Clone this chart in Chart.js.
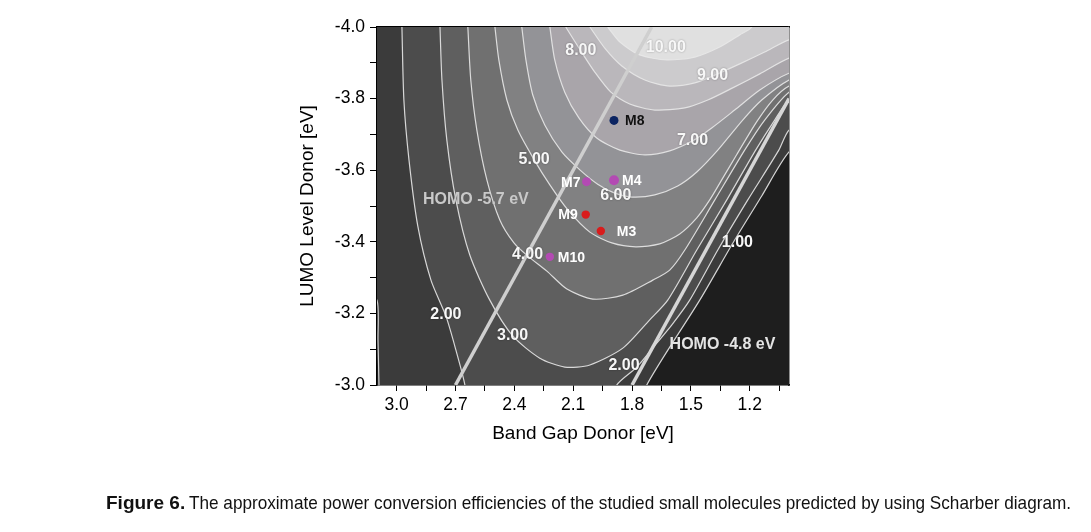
<!DOCTYPE html>
<html><head><meta charset="utf-8">
<script src="https://cdn.jsdelivr.net/npm/chart.js@4.4.1/dist/chart.umd.min.js"></script>
<style>
html,body{margin:0;padding:0;background:#fff;}
#wrap{position:relative;width:1091px;height:532px;overflow:hidden;}
#c{position:absolute;left:0;top:0;}
#cap{position:absolute;left:106px;top:492px;white-space:nowrap;color:#111;line-height:22px;}
#cap b{font-family:"Liberation Sans",Arial,sans-serif;font-size:19px;font-weight:bold;vertical-align:top;}
#capt{display:inline-block;font-family:"Liberation Sans",Arial,sans-serif;font-size:19px;transform-origin:0 50%;vertical-align:top;margin-left:4px;}
</style></head><body>
<div id="wrap">
<canvas id="c" width="1091" height="532"></canvas>
<div id="cap"><b>Figure 6.</b><span id="capt">The approximate power conversion efficiencies of the studied small molecules predicted by using Scharber diagram.</span></div>
</div>
<script>
// ---------- tick labels ----------
const xMajorTicks = [3.0, 2.7, 2.4, 2.1, 1.8, 1.5, 1.2];
const xMinorTicks = [2.85, 2.55, 2.25, 1.95, 1.65, 1.35, 1.05];
const yMajorTicks = [-4.0, -3.8, -3.6, -3.4, -3.2, -3.0];
const yMinorTicks = [-3.9, -3.7, -3.5, -3.3, -3.1];

// ---------- contour lines (band gap [eV], LUMO [eV]) ----------
const contourLevels = [1, 2, 3, 4, 5, 6, 7, 8, 9, 10];
const c1Left  = [[3.1,-3.237],[3.095,-3.126],[3.09,-3.0]];
const c1Right = [[1.725,-3.0],[1.455,-3.237],[1.277,-3.405],[1.139,-3.528],[1.0,-3.651]];
const c2Left  = [[2.973,-4.0],[2.963,-3.796],[2.937,-3.629],[2.892,-3.444],[2.825,-3.293],[2.749,-3.193],[2.698,-3.098],[2.652,-3.0]];
const c2Right = [[1.878,-3.0],[1.776,-3.050],[1.674,-3.117],[1.597,-3.168],[1.506,-3.237],[1.363,-3.377],[1.210,-3.517],[1.052,-3.656],[1.0,-3.712]];
const c3 = [[2.779,-4.0],[2.769,-3.852],[2.744,-3.684],[2.698,-3.517],[2.627,-3.363],[2.525,-3.237],[2.408,-3.137],[2.270,-3.075],[2.143,-3.050],[2.015,-3.056],[1.847,-3.103],[1.710,-3.182],[1.618,-3.237],[1.470,-3.377],[1.317,-3.517],[1.170,-3.656],[1.073,-3.740],[1.0,-3.796]];
const c4 = [[2.637,-4.0],[2.622,-3.852],[2.591,-3.712],[2.540,-3.573],[2.474,-3.461],[2.402,-3.397],[2.331,-3.360],[2.234,-3.318],[2.132,-3.268],[2.000,-3.240],[1.847,-3.251],[1.694,-3.293],[1.608,-3.321],[1.531,-3.377],[1.378,-3.517],[1.226,-3.656],[1.124,-3.740],[1.0,-3.818]];
const c5 = [[2.499,-4.0],[2.479,-3.908],[2.438,-3.796],[2.382,-3.712],[2.301,-3.631],[2.219,-3.559],[2.127,-3.489],[2.015,-3.427],[1.903,-3.397],[1.781,-3.386],[1.659,-3.394],[1.557,-3.422],[1.470,-3.467],[1.404,-3.517],[1.343,-3.573],[1.267,-3.643],[1.165,-3.735],[1.083,-3.796],[1.0,-3.835]];
const c6 = [[2.362,-4.0],[2.341,-3.908],[2.306,-3.810],[2.245,-3.726],[2.158,-3.651],[2.066,-3.601],[1.975,-3.561],[1.888,-3.536],[1.801,-3.525],[1.684,-3.531],[1.567,-3.556],[1.470,-3.595],[1.363,-3.656],[1.236,-3.740],[1.139,-3.796],[1.0,-3.852]];
const c7 = [[2.219,-4.0],[2.194,-3.908],[2.143,-3.818],[2.071,-3.746],[1.980,-3.690],[1.862,-3.656],[1.735,-3.643],[1.608,-3.654],[1.491,-3.682],[1.394,-3.718],[1.277,-3.768],[1.149,-3.824],[1.0,-3.871]];
const c8 = [[2.138,-4.0],[2.061,-3.933],[1.990,-3.874],[1.908,-3.818],[1.812,-3.785],[1.684,-3.768],[1.531,-3.774],[1.414,-3.796],[1.287,-3.830],[1.149,-3.869],[1.0,-3.913]];
const c9 = [[2.015,-4.0],[1.939,-3.941],[1.852,-3.891],[1.735,-3.852],[1.608,-3.835],[1.480,-3.844],[1.389,-3.863],[1.251,-3.897],[1.124,-3.930],[1.0,-3.964]];
const c10 = [[1.924,-4.0],[1.862,-3.958],[1.761,-3.922],[1.623,-3.908],[1.480,-3.916],[1.353,-3.944],[1.251,-3.978],[1.190,-4.0]];

// contour labels
const contourLabelText = ['10.00','9.00','8.00','7.00','6.00','5.00','4.00','3.00','2.00','2.00','1.00'];
const contourLabelGap  = [1.628, 1.390, 2.061, 1.492, 1.883, 2.299, 2.333, 2.409, 2.749, 1.841, 1.263];
const contourLabelLumo = [-3.942, -3.863, -3.933, -3.682, -3.528, -3.630, -3.365, -3.137, -3.197, -3.053, -3.397];

// HOMO reference lines
const homo57Line = [[2.7,-3.0],[1.7,-4.0]];
const homo48Line = [[1.8,-3.0],[1.0,-3.8]];
const homoLabelText = ['HOMO -5.7 eV', 'HOMO -4.8 eV'];
const homoLabelGap  = [2.596, 1.339];
const homoLabelLumo = [-3.519, -3.114];

// molecules
const molecules = ['M8', 'M7', 'M4', 'M9', 'M3', 'M10'];
const molGap    = [1.892, 2.032, 1.892, 2.036, 1.959, 2.219];
const molLumo   = [-3.739, -3.568, -3.572, -3.476, -3.430, -3.358];

// ---------- styles ----------
const bandColors = ['#3b3b3b','#4c4c4c','#5f5f5f','#707070','#818182','#939397','#a9a5aa','#bab7bb','#cccbcd','#e0e0e0'];
const lowColor = '#1e1e1e';
const molStyle = {
  M8:{fill:'#0b2462', text:'#111', side:1, dx:11, r:4.5},
  M7:{fill:'#b34ab3', text:'#fff', side:-1, dx:6, r:4.5},
  M4:{fill:'#b34ab3', text:'#fff', side:1, dx:8, r:5},
  M9:{fill:'#d91c1c', text:'#fff', side:-1, dx:8, r:4.2},
  M3:{fill:'#d91c1c', text:'#fff', side:1, dx:16, r:4.2},
  M10:{fill:'#b34ab3', text:'#fff', side:1, dx:8, r:4.2}
};

// ---------- building closed regions (value >= level) ----------
const XL = 3.16, XR = 0.94, YT = -4.04, YB = -2.96;
function closeTop(path) {
  const pts = path.slice();
  const last = path[path.length-1];
  if (last[0] <= 1.0001) { pts.push([XR, last[1]]); pts.push([XR, YT]); }
  else pts.push([last[0], YT]);
  pts.push([path[0][0], YT]);
  return pts;
}
function closeTwo(left, right) {
  const pts = left.slice();
  pts.push([left[left.length-1][0], YB]);
  pts.push([right[0][0], YB]);
  right.forEach(p => pts.push(p));
  const last = right[right.length-1];
  pts.push([XR, last[1]]); pts.push([XR, YT]);
  pts.push([left[0][0], YT]);
  return pts;
}
const region1 = [[XL, YT],[XL, c1Left[0][1]]].concat(c1Left, [[c1Left[c1Left.length-1][0], YB],[c1Right[0][0], YB]], c1Right, [[XR, c1Right[c1Right.length-1][1]],[XR, YT]]);
const regions = [region1, closeTwo(c2Left, c2Right), closeTop(c3), closeTop(c4), closeTop(c5), closeTop(c6), closeTop(c7), closeTop(c8), closeTop(c9), closeTop(c10)];
const toXY = arr => arr.map(p => ({x:p[0], y:p[1]}));

const datasets = [];
regions.forEach((reg, i) => {
  datasets.push({
    label: 'PCE ' + contourLevels[i] + '%',
    data: toXY(reg),
    borderColor: 'rgba(232,232,232,0.9)',
    borderWidth: 1.2,
    backgroundColor: bandColors[i],
    fill: 'shape',
    tension: 0.25,
    pointRadius: 0,
    order: 40 - i
  });
});
datasets.push({label:'HOMO -5.7', data: toXY(homo57Line), borderColor:'#cfcfcf', borderWidth:3.5, pointRadius:0, fill:false, order:5});
datasets.push({label:'HOMO -4.8', data: toXY(homo48Line), borderColor:'#d6d6d6', borderWidth:3.5, pointRadius:0, fill:false, order:5});
datasets.push({
  label:'molecules',
  data: molecules.map((m, i) => ({x: molGap[i], y: molLumo[i]})),
  showLine:false,
  pointRadius: molecules.map(m => molStyle[m].r),
  pointBackgroundColor: molecules.map(m => molStyle[m].fill),
  pointBorderWidth: 0,
  order: 1
});

const decor = {
  id: 'decor',
  beforeDatasetsDraw(chart) {
    const {ctx, chartArea: a} = chart;
    ctx.save(); ctx.fillStyle = lowColor; ctx.fillRect(a.left, a.top, a.width, a.height); ctx.restore();
  },
  afterDatasetsDraw(chart) {
    const {ctx, chartArea: a} = chart;
    const xs = chart.scales.x, ys = chart.scales.y;
    ctx.save();
    ctx.beginPath(); ctx.rect(a.left, a.top, a.width, a.height); ctx.clip();
    ctx.textAlign = 'center'; ctx.textBaseline = 'middle';
    ctx.font = 'bold 16px "Liberation Sans", Arial, sans-serif';
    homoLabelText.forEach((t, i) => {
      ctx.fillStyle = i === 0 ? '#c9c9c9' : '#e4e4e4';
      ctx.fillText(t, xs.getPixelForValue(homoLabelGap[i]), ys.getPixelForValue(homoLabelLumo[i]));
    });
    ctx.shadowColor = 'rgba(0,0,0,0.35)'; ctx.shadowBlur = 2;
    contourLabelText.forEach((t, i) => {
      ctx.fillStyle = '#f7f7f7';
      ctx.fillText(t, xs.getPixelForValue(contourLabelGap[i]), ys.getPixelForValue(contourLabelLumo[i]));
    });
    ctx.shadowBlur = 0; ctx.shadowColor = 'transparent';
    ctx.font = 'bold 14px "Liberation Sans", Arial, sans-serif';
    molecules.forEach((m, i) => {
      const s = molStyle[m];
      const px = xs.getPixelForValue(molGap[i]), py = ys.getPixelForValue(molLumo[i]);
      ctx.fillStyle = s.text;
      ctx.textAlign = s.side > 0 ? 'left' : 'right';
      ctx.fillText(m, px + s.side * s.dx, py + 1);
    });
    ctx.restore();
  }
};

const allX = xMajorTicks.concat(xMinorTicks).sort((a,b)=>b-a);
const allY = yMajorTicks.concat(yMinorTicks).sort((a,b)=>a-b);
const isIn = (list, v) => list.some(m => Math.abs(m - v) < 1e-6);
const tickFont = {family:'"Liberation Sans", Arial, sans-serif', size:17.5};

new Chart(document.getElementById('c'), {
  type: 'line',
  data: { datasets },
  plugins: [decor],
  options: {
    responsive: false, animation: false, devicePixelRatio: 1,
    layout: { padding: {left: 293, right: 300, top: 25, bottom: 83} },
    plugins: { legend: {display:false}, tooltip: {enabled:false} },
    scales: {
      x: {
        type:'linear', min:1.0, max:3.1, reverse:true, position:'bottom', z:2,
        afterBuildTicks: s => { s.ticks = allX.map(v => ({value:v})); },
        afterFit: s => { s.height = 64; },
        ticks: { autoSkip:false, maxRotation:0, padding:4, color:'#000', font: tickFont,
          callback: v => isIn(xMajorTicks, v) ? v.toFixed(1) : '' },
        grid: { drawOnChartArea:false, tickLength:6, color:'#000', lineWidth:1 },
        border: { display:true, color:'#000', width:1.5 },
        title: { display:true, text:'Band Gap Donor [eV]', color:'#000', padding:{top:2, bottom:4},
          font:{family:'"Liberation Sans", Arial, sans-serif', size:19} }
      },
      x2: {
        type:'linear', min:1.0, max:3.1, reverse:true, position:'top', z:2,
        afterBuildTicks: s => { s.ticks = allX.map(v => ({value:v})); },
        afterFit: s => { s.height = 2; },
        ticks: { display:false },
        grid: { drawOnChartArea:false, tickLength:-6, color:'#000', lineWidth:1 },
        border: { display:true, color:'#000', width:1.5 }
      },
      y: {
        type:'linear', min:-4.0, max:-3.0, reverse:true, position:'left', z:2,
        afterBuildTicks: s => { s.ticks = allY.map(v => ({value:v})); },
        afterFit: s => { s.width = 84; },
        ticks: { autoSkip:false, padding:5, color:'#000', font: tickFont,
          callback: v => isIn(yMajorTicks, v) ? v.toFixed(1) : '' },
        grid: { drawOnChartArea:false, tickLength:7, color:'#000', lineWidth:1 },
        border: { display:true, color:'#000', width:1.5 },
        title: { display:true, text:'LUMO Level Donor [eV]', color:'#000', padding:{top:3, bottom:0},
          font:{family:'"Liberation Sans", Arial, sans-serif', size:19} }
      },
      y2: {
        type:'linear', min:-4.0, max:-3.0, reverse:true, position:'right', z:2,
        afterFit: s => { s.width = 2; },
        ticks: { display:false },
        grid: { display:false },
        border: { display:true, color:'#222', width:1.5 }
      }
    }
  }
});

// condense the caption text horizontally so it spans the same width as the original
const capt = document.getElementById('capt');
const w = capt.getBoundingClientRect().width;
const target = 882;
capt.style.transform = 'scaleX(' + (target / w).toFixed(4) + ')';
</script>
</body></html>
